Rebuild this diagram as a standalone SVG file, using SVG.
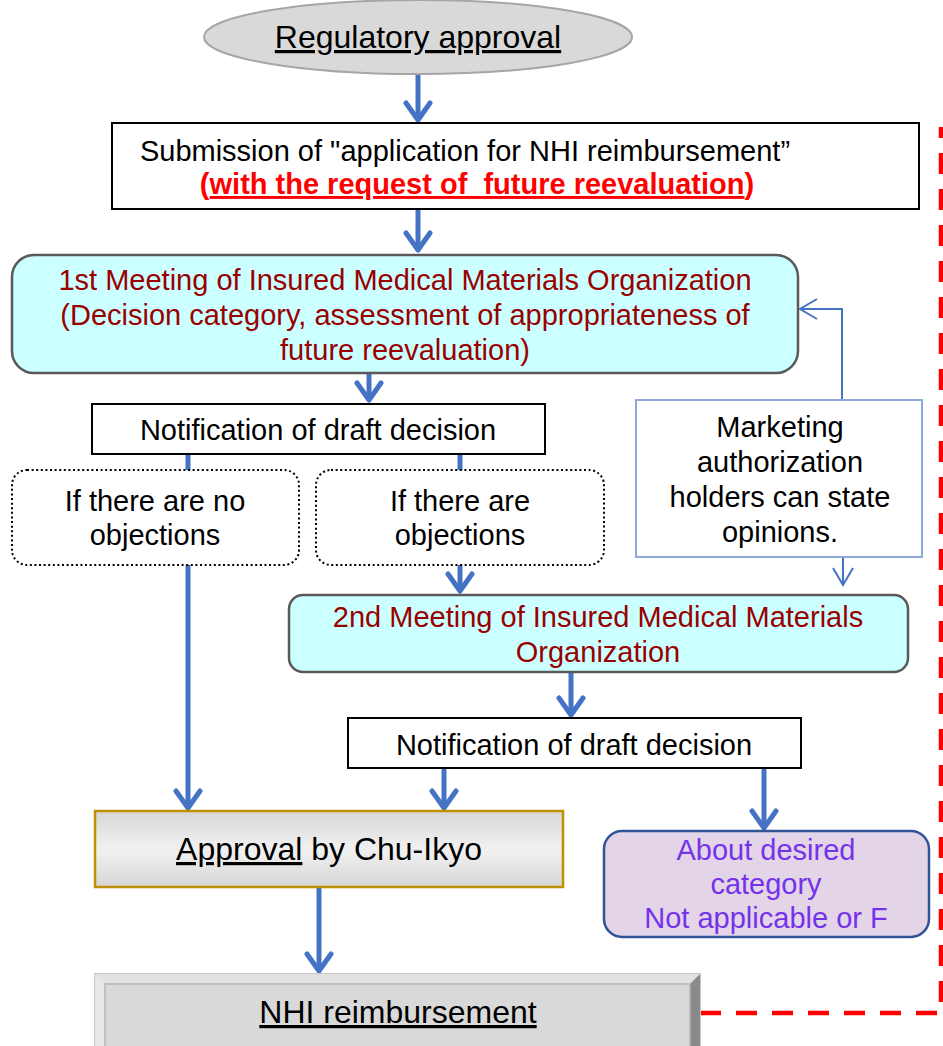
<svg xmlns="http://www.w3.org/2000/svg" width="943" height="1046" viewBox="0 0 943 1046">
  <style>
    text { font-family: "Liberation Sans", Arial, sans-serif; font-size: 29px; fill: #000; text-anchor: middle; }
    .big { font-size: 32px; }
    .red { fill: #ff0000; font-weight: bold; }
    .maroon { fill: #990000; }
    .violet { fill: #7433ea; }
    .u { text-decoration: underline; }
    .flow { fill: none; stroke: #4472c4; stroke-width: 5; stroke-linecap: butt; }
    .thin { fill: none; stroke: #4472c4; stroke-width: 2; }
    .dotted { fill: #fff; stroke: #000; stroke-width: 2; stroke-dasharray: 2 2.6; }
    .meeting { fill: #ccffff; stroke: #595959; stroke-width: 2.5; }
  </style>
  <defs>
    <marker id="head" markerUnits="userSpaceOnUse" viewBox="-22 -16 26 32" markerWidth="26" markerHeight="32" refX="0" refY="0" orient="auto">
      <path d="M-17,-12 L0,0 L-17,12" fill="none" stroke="#4472c4" stroke-width="5" stroke-linecap="round" stroke-linejoin="round"/>
    </marker>
    <marker id="headThin" markerUnits="userSpaceOnUse" viewBox="-20 -12 22 24" markerWidth="22" markerHeight="24" refX="0" refY="0" orient="auto">
      <path d="M-17,-10 L0,0 L-17,10" fill="none" stroke="#4472c4" stroke-width="2"/>
    </marker>
    <linearGradient id="approvalFill" x1="0" y1="0" x2="0" y2="1">
      <stop offset="0" stop-color="#d6d6d6"/>
      <stop offset="0.45" stop-color="#efefef"/>
      <stop offset="0.55" stop-color="#efefef"/>
      <stop offset="1" stop-color="#d6d6d6"/>
    </linearGradient>
  </defs>

  <!-- connectors -->
  <g id="connectors">
    <path class="flow" d="M418,75 V120" marker-end="url(#head)"/>
    <path class="flow" d="M418,210 V250" marker-end="url(#head)"/>
    <path class="flow" d="M369,373 V400" marker-end="url(#head)"/>
    <path class="flow" d="M188,454 V808" marker-end="url(#head)"/>
    <path class="flow" d="M460,454 V591" marker-end="url(#head)"/>
    <path class="flow" d="M571,672 V715" marker-end="url(#head)"/>
    <path class="flow" d="M444,769 V808" marker-end="url(#head)"/>
    <path class="flow" d="M764,769 V828" marker-end="url(#head)"/>
    <path class="flow" d="M319,887 V971" marker-end="url(#head)"/>
    <path class="thin" d="M842,400 V309 H800" marker-end="url(#headThin)"/>
    <path class="thin" d="M843,557 V585" marker-end="url(#headThin)"/>
    <path d="M700,1013 H941 V127" fill="none" stroke="#ff0000" stroke-width="4.5" stroke-dasharray="21 15"/>
  </g>

  <!-- start: regulatory approval -->
  <g id="regulatory-approval">
    <ellipse cx="418" cy="37" rx="214" ry="37" fill="#d9d9d9" stroke="#a6a6a6" stroke-width="2"/>
    <text class="big u" x="418" y="48">Regulatory approval</text>
  </g>

  <!-- application submission -->
  <g id="submission">
    <rect x="112" y="123" width="807" height="86" fill="#fff" stroke="#000" stroke-width="2"/>
    <text x="465" y="161">Submission of "application for NHI reimbursement”</text>
    <text class="red" x="477" y="194" style="white-space:pre">(<tspan class="u">with the request of  future reevaluation</tspan>)</text>
  </g>

  <!-- first meeting -->
  <g id="first-meeting">
    <rect class="meeting" x="12" y="255" width="786" height="118" rx="22"/>
    <text class="maroon" x="405" y="290">1st Meeting of Insured Medical Materials Organization</text>
    <text class="maroon" x="405" y="325">(Decision category, assessment of appropriateness of</text>
    <text class="maroon" x="405" y="360">future reevaluation)</text>
  </g>

  <!-- first draft decision notice -->
  <g id="notification-1">
    <rect x="92" y="404" width="453" height="50" fill="#fff" stroke="#000" stroke-width="2"/>
    <text x="318" y="440">Notification of draft decision</text>
  </g>

  <g id="no-objections">
    <rect class="dotted" x="12" y="470" width="287" height="95" rx="15"/>
    <text x="155" y="511">If there are no</text>
    <text x="155" y="545">objections</text>
  </g>

  <g id="objections">
    <rect class="dotted" x="316" y="470" width="288" height="95" rx="15"/>
    <text x="460" y="511">If there are</text>
    <text x="460" y="545">objections</text>
  </g>

  <!-- holders' opinions -->
  <g id="opinions">
    <rect x="636" y="400" width="286" height="157" fill="#fff" stroke="#8eaadb" stroke-width="2"/>
    <text x="780" y="437">Marketing</text>
    <text x="780" y="472">authorization</text>
    <text x="780" y="507">holders can state</text>
    <text x="780" y="542">opinions.</text>
  </g>

  <!-- second meeting -->
  <g id="second-meeting">
    <rect class="meeting" x="289" y="595" width="619" height="77" rx="14"/>
    <text class="maroon" x="598" y="627">2nd Meeting of Insured Medical Materials</text>
    <text class="maroon" x="598" y="662">Organization</text>
  </g>

  <g id="notification-2">
    <rect x="348" y="718" width="453" height="50" fill="#fff" stroke="#000" stroke-width="2"/>
    <text x="574" y="755">Notification of draft decision</text>
  </g>

  <!-- Chu-Ikyo approval -->
  <g id="approval">
    <rect x="95" y="811" width="468" height="76" fill="url(#approvalFill)" stroke="#bf9000" stroke-width="2.5"/>
    <text class="big" x="329" y="860"><tspan class="u">Approval</tspan> by Chu-Ikyo</text>
  </g>

  <!-- desired category outcome -->
  <g id="desired-category">
    <rect x="604" y="831" width="325" height="106" rx="18" fill="#e4d4e8" stroke="#2f5597" stroke-width="2.5"/>
    <text class="violet" x="766" y="860">About desired</text>
    <text class="violet" x="766" y="894">category</text>
    <text class="violet" x="766" y="928">Not applicable or F</text>
  </g>

  <!-- final listing, bevelled panel -->
  <g id="nhi-reimbursement">
    <rect x="95" y="974" width="605" height="90" fill="#d9d9d9" stroke="#c8c8c8" stroke-width="2"/>
    <polygon points="95,974 700,974 690,984 105,984" fill="#e2e2e2"/>
    <polygon points="95,974 105,984 105,1054 95,1064" fill="#e9e9e9"/>
    <polygon points="700,974 700,1064 690,1054 690,984" fill="#8a8a8a"/>
    <rect x="105" y="984" width="585" height="70" fill="#d9d9d9" stroke="#b5b5b5" stroke-width="1.5"/>
    <text class="big u" x="398" y="1023">NHI reimbursement</text>
  </g>
</svg>
